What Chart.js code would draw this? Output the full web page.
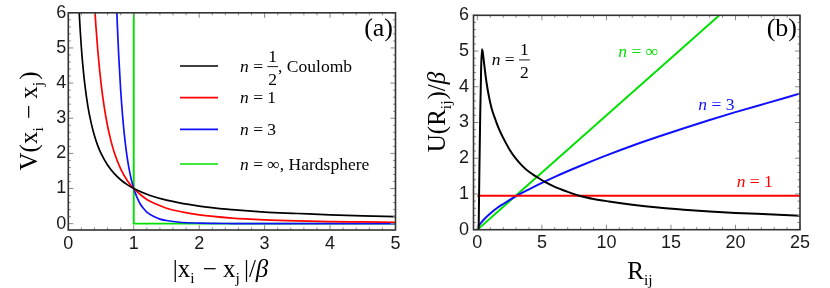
<!DOCTYPE html>
<html>
<head>
<meta charset="utf-8">
<script src="https://cdn.jsdelivr.net/npm/chart.js@4.4.1/dist/chart.umd.min.js"></script>
<style>
  html, body { margin: 0; padding: 0; background: #fff; }
  #wrap { position: relative; width: 830px; height: 288px; }
  canvas { position: absolute; top: 0; }
</style>
</head>
<body>
<div id="wrap">
  <canvas id="panelA" width="415" height="288" style="left:0"></canvas>
  <canvas id="panelB" width="415" height="288" style="left:415px"></canvas>
</div>
<script>
// ---- panel (a): V(|xi - xj|/beta), points as [x, y]
const aCoulomb = [[0.16,6.25],[0.18,5.56],[0.2,5],[0.22,4.55],[0.25,4],[0.3,3.33],[0.35,2.86],[0.4,2.5],[0.45,2.22],[0.5,2],[0.6,1.67],[0.7,1.43],[0.8,1.25],[0.9,1.11],[1,1],[1.25,0.8],[1.5,0.67],[2,0.5],[2.5,0.4],[3,0.33],[3.5,0.29],[4,0.25],[4.5,0.22],[5,0.2]];
const aOne = [[0.4,6.25],[0.42,5.67],[0.45,4.94],[0.5,4],[0.55,3.31],[0.6,2.78],[0.65,2.37],[0.7,2.04],[0.8,1.56],[0.9,1.23],[1,1],[1.1,0.83],[1.2,0.69],[1.35,0.55],[1.5,0.44],[1.75,0.33],[2,0.25],[2.5,0.16],[3,0.11],[3.5,0.08],[4,0.06],[4.5,0.05],[5,0.04]];
const aThree = [[0.74,6.1],[0.75,5.62],[0.77,4.8],[0.8,3.81],[0.83,3.06],[0.86,2.47],[0.9,1.88],[0.95,1.36],[1,1],[1.05,0.75],[1.1,0.56],[1.15,0.43],[1.2,0.33],[1.3,0.21],[1.4,0.13],[1.5,0.09],[1.7,0.04],[2,0.016],[2.5,0.004],[3,0.001],[4,0],[5,0]];
const aHard = [[1,6.3],[1,0],[5,0]];

// ---- panel (b): U(Rij)/beta
const bHalf = [[0.1,0],[0.15,1.5],[0.22,3.2],[0.29,4.5],[0.35,5.05],[0.4,5.0],[0.5,4.72],[0.6,4.42],[0.73,4.07],[0.9,3.72],[1.1,3.4],[1.46,3.02],[1.73,2.77],[2,2.57],[2.5,2.24],[3,1.98],[3.5,1.78],[4,1.62],[4.55,1.49],[5.27,1.33],[6,1.2],[7,1.06],[7.9,0.95],[9,0.86],[10.2,0.79],[12,0.7],[14,0.62],[16,0.56],[18,0.51],[20,0.47],[22.5,0.43],[25,0.39]];
const bOne = [[0,0.95],[25,0.95]];
const bThree = [[0,0],[0.1,0.1],[0.3,0.2],[0.6,0.32],[1,0.455],[1.5,0.6],[2,0.72],[3,0.94],[4,1.13],[5,1.31],[6,1.48],[8,1.79],[10,2.08],[12,2.35],[14,2.6],[16,2.84],[18,3.07],[20,3.29],[22.5,3.55],[25,3.81]];
const bInf = [[0,0],[18.75,6]];

const colors = ['#000000', '#ff0000', '#1010ff', '#00e000'];
const legendNames = ['n = 1/2, Coulomb', 'n = 1', 'n = 3', 'n = \u221e, Hardsphere'];

const SERIF = "'Liberation Serif','Times New Roman',serif";
const SANS = "'Liberation Sans', Arial, sans-serif";

function xy(pts) { return pts.map(p => ({ x: p[0], y: p[1] })); }

// rich text: runs of {t, it, sub, gap} or {frac:[num, den]}
function runFont(r, size) {
  const s = r.sub ? size * 0.62 : size;
  return (r.it ? 'italic ' : '') + s + 'px ' + SERIF;
}
function runsWidth(ctx, runs, size) {
  let w = 0;
  for (const r of runs) {
    if (r.frac) {
      ctx.font = runFont({}, size);
      w += Math.max(ctx.measureText(r.frac[0]).width, ctx.measureText(r.frac[1]).width) + 2;
    } else {
      ctx.font = runFont(r, size);
      w += ctx.measureText(r.t).width + (r.gap || 0);
    }
  }
  return w;
}
function drawRuns(ctx, runs, x, y, size, color) {
  ctx.fillStyle = color;
  ctx.strokeStyle = color;
  ctx.textBaseline = 'alphabetic';
  ctx.textAlign = 'left';
  for (const r of runs) {
    if (r.frac) {
      ctx.font = runFont({}, size);
      const fw = Math.max(ctx.measureText(r.frac[0]).width, ctx.measureText(r.frac[1]).width) + 2;
      const axis = y - size * 0.29;
      ctx.lineWidth = 0.9;
      ctx.beginPath(); ctx.moveTo(x, axis); ctx.lineTo(x + fw, axis); ctx.stroke();
      ctx.textAlign = 'center';
      ctx.fillText(r.frac[0], x + fw / 2, axis - size * 0.26);
      ctx.fillText(r.frac[1], x + fw / 2, axis + size * 1.05);
      ctx.textAlign = 'left';
      x += fw;
      continue;
    }
    ctx.font = runFont(r, size);
    ctx.fillText(r.t, x, y + (r.sub ? size * 0.22 : 0));
    x += ctx.measureText(r.t).width + (r.gap || 0);
  }
}
// turn "n = 1/2, Coulomb" style labels into runs
function labelRuns(s) {
  const rest = s.slice(1);
  const m = rest.match(/^(.*?)(\d)\/(\d)(.*)$/);
  if (m) return [{ t: 'n', it: 1 }, { t: m[1] }, { frac: [m[2], m[3]] }, { t: m[4] }];
  return [{ t: 'n', it: 1 }, { t: rest }];
}

const textPlugin = {
  id: 'texts',
  afterDraw(chart, args, opts) {
    const ctx = chart.ctx;
    ctx.save();
    for (const it of opts.items || []) {
      const w = runsWidth(ctx, it.runs, it.size);
      ctx.save();
      ctx.translate(it.x, it.y);
      if (it.rotate) ctx.rotate(-Math.PI / 2);
      let sx = 0;
      if (it.align === 'center') sx = -w / 2;
      if (it.align === 'right') sx = -w;
      drawRuns(ctx, it.runs, sx, 0, it.size, it.color || '#000');
      ctx.restore();
    }
    // legend lines
    for (const l of opts.legend || []) {
      ctx.strokeStyle = l.color;
      ctx.lineWidth = 1.7;
      ctx.beginPath(); ctx.moveTo(l.x0, l.y); ctx.lineTo(l.x1, l.y); ctx.stroke();
      drawRuns(ctx, labelRuns(l.text), l.tx, l.y + 5.7, 17.5, '#000');
    }
    ctx.restore();
  }
};

const framePlugin = {
  id: 'frame',
  afterDatasetsDraw(chart, args, o) {
    const { ctx, chartArea: c } = chart;
    const xs = chart.scales.x, ys = chart.scales.y;
    ctx.save();
    ctx.strokeStyle = '#888';
    ctx.lineWidth = 1;
    ctx.beginPath();
    for (let i = 0; ; i++) {
      const v = o.xStart + i * o.xMinor;
      if (v > xs.max + 1e-9) break;
      const px = xs.getPixelForValue(v);
      const len = (i % o.xEvery === 0) ? 5 : 2.5;
      ctx.moveTo(px, c.bottom); ctx.lineTo(px, c.bottom - len);
      ctx.moveTo(px, c.top); ctx.lineTo(px, c.top + len);
    }
    for (let i = 0; ; i++) {
      const v = o.yStart + i * o.yMinor;
      if (v > ys.max + 1e-9) break;
      const py = ys.getPixelForValue(v);
      const len = (i % o.yEvery === 0) ? 5 : 2.5;
      ctx.moveTo(c.left, py); ctx.lineTo(c.left + len, py);
      ctx.moveTo(c.right, py); ctx.lineTo(c.right - len, py);
    }
    ctx.stroke();
    ctx.strokeStyle = '#333';
    ctx.lineWidth = 1.6;
    ctx.strokeRect(c.left, c.top, c.right - c.left, c.bottom - c.top);
    ctx.restore();
  }
};

function curve(pts, color, width, smooth) {
  return {
    data: xy(pts),
    borderColor: color,
    borderWidth: width,
    pointRadius: 0,
    fill: false,
    tension: 0,
    cubicInterpolationMode: smooth ? 'monotone' : 'default'
  };
}

function axes(xMin, xMax, xStep, yMin, yMax, yWidth, xHeight, yPad) {
  const tickFont = { family: SANS, size: 18 };
  return {
    x: {
      type: 'linear', min: xMin, max: xMax,
      ticks: { stepSize: xStep, includeBounds: false, autoSkip: false, maxRotation: 0, font: tickFont, color: '#1a1a1a', padding: 3 },
      grid: { display: false, drawTicks: false },
      border: { display: false },
      afterFit(s) { s.height = xHeight; }
    },
    y: {
      type: 'linear', min: yMin, max: yMax,
      ticks: { stepSize: 1, includeBounds: false, autoSkip: false, font: tickFont, color: '#1a1a1a', padding: yPad },
      grid: { display: false, drawTicks: false },
      border: { display: false },
      afterFit(s) { s.width = yWidth; }
    }
  };
}

// ---- panel (a)
new Chart(document.getElementById('panelA'), {
  type: 'line',
  data: {
    datasets: [
      curve(aCoulomb, colors[0], 1.7, true),
      curve(aOne, colors[1], 1.7, true),
      curve(aThree, colors[2], 1.7, true),
      curve(aHard, colors[3], 1.9, false)
    ]
  },
  options: {
    responsive: false,
    animation: false,
    devicePixelRatio: 1,
    layout: { padding: { top: 12.6, right: 19.5, left: 0, bottom: 0 } },
    scales: axes(0, 5, 1, -0.18, 6, 68.3, 58, 2),
    plugins: {
      legend: { display: false },
      tooltip: { enabled: false },
      frame: { xStart: 0, xMinor: 0.2, xEvery: 5, yStart: 0, yMinor: 0.2, yEvery: 5 },
      texts: {
        items: [
          { runs: [{ t: '|' }, { t: 'x' }, { t: 'i', sub: 1, gap: 2 }, { t: ' \u2212 ' }, { t: 'x' }, { t: 'j', sub: 1, gap: 4 }, { t: '|' }, { t: '/' }, { t: '\u03b2', it: 1 }],
            x: 220.5, y: 277, size: 25, align: 'center' },
          { runs: [{ t: 'V(' }, { t: 'x' }, { t: 'i', sub: 1, gap: 2 }, { t: ' \u2212 ' }, { t: 'x' }, { t: 'j', sub: 1, gap: 2 }, { t: ')' }],
            x: 37, y: 121, size: 25, align: 'center', rotate: true },
          { runs: [{ t: '(a)' }], x: 393, y: 36, size: 26, align: 'right' }
        ],
        legend: legendNames.map((name, i) => ({
          text: name, color: colors[i], x0: 180, x1: 218, tx: 240, y: [66, 97.7, 129.3, 164][i]
        }))
      }
    }
  },
  plugins: [framePlugin, textPlugin]
});

// ---- panel (b)
new Chart(document.getElementById('panelB'), {
  type: 'line',
  data: {
    datasets: [
      curve(bHalf, colors[0], 2, true),
      curve(bOne, colors[1], 2, false),
      curve(bThree, colors[2], 2, true),
      curve(bInf, colors[3], 2, false)
    ]
  },
  options: {
    responsive: false,
    animation: false,
    devicePixelRatio: 1,
    layout: { padding: { top: 11.3, right: 30, left: 0, bottom: 0 } },
    scales: axes(-0.3, 25, 5, 0, 6, 58.5, 58.3, 4.5),
    plugins: {
      legend: { display: false },
      tooltip: { enabled: false },
      frame: { xStart: 0, xMinor: 1, xEvery: 5, yStart: 0, yMinor: 0.2, yEvery: 5 },
      texts: {
        items: [
          { runs: [{ t: 'R' }, { t: 'ij', sub: 1 }], x: 640 - 415, y: 279, size: 25, align: 'center' },
          { runs: [{ t: 'U(' }, { t: 'R' }, { t: 'ij', sub: 1, gap: 1 }, { t: ')/' }, { t: '\u03b2', it: 1 }],
            x: 445 - 415, y: 112, size: 25, align: 'center', rotate: true },
          { runs: [{ t: '(b)' }], x: 797 - 415, y: 36, size: 26, align: 'right' },
          { runs: labelRuns(legendNames[0].split(',')[0]), x: 491.7 - 415, y: 65, size: 17.5, color: colors[0] },
          { runs: labelRuns(legendNames[3].split(',')[0]), x: 618.3 - 415, y: 57, size: 17.5, color: colors[3] },
          { runs: labelRuns(legendNames[2]), x: 698.3 - 415, y: 110, size: 17.5, color: colors[2] },
          { runs: labelRuns(legendNames[1]), x: 736.7 - 415, y: 187, size: 17.5, color: colors[1] }
        ]
      }
    }
  },
  plugins: [framePlugin, textPlugin]
});
</script>
</body>
</html>
